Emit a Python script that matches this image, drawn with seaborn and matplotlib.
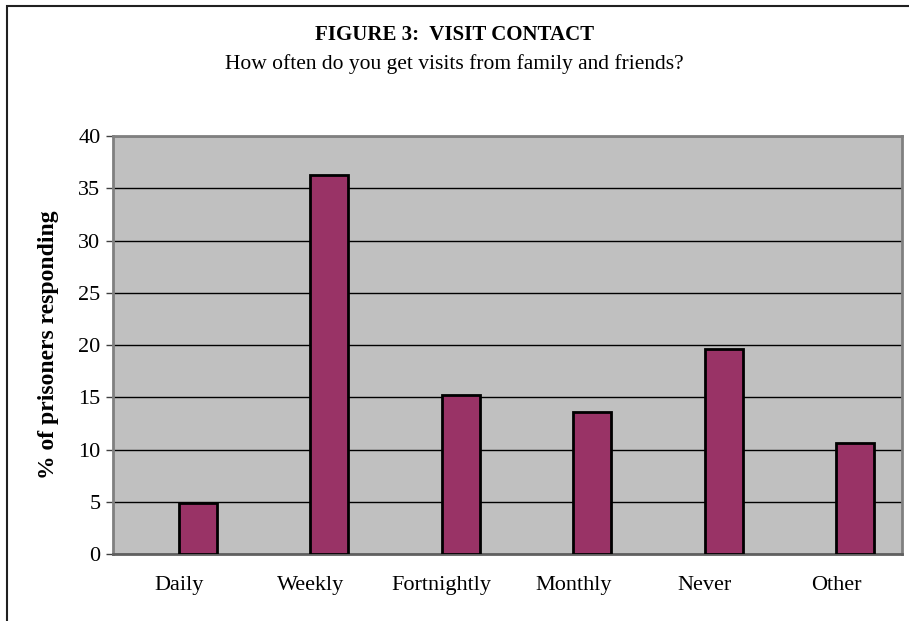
import numpy as np
import pandas as pd
import matplotlib
matplotlib.use("Agg")
import matplotlib.pyplot as plt
import seaborn as sns
from matplotlib.patches import Rectangle

categories = ["Daily", "Weekly", "Fortnightly", "Monthly", "Never", "Other"]
percent = [4.9, 36.3, 15.2, 13.6, 19.6, 10.6]
y_ticks = [0, 5, 10, 15, 20, 25, 30, 35, 40]

sns.set_style("white")
plt.rcParams['font.family'] = ['Liberation Serif', 'DejaVu Serif']
plt.rcParams['text.color'] = 'black'
plt.rcParams['xtick.color'] = 'black'
plt.rcParams['ytick.color'] = 'black'
plt.rcParams['axes.labelcolor'] = 'black'

# Excel-style layout: an empty first series pushes the real bar right of centre
df = pd.DataFrame({
    "freq": categories * 2,
    "pct": [np.nan] * len(categories) + percent,
    "series": ["blank"] * len(categories) + ["pct"] * len(categories),
})

fig = plt.figure(figsize=(9.09, 6.21), dpi=100)
ax = fig.add_axes([0.1243, 0.1079, 0.868, 0.673])
ax.set_facecolor("#C0C0C0")

sns.barplot(data=df, x="freq", y="pct", hue="series", dodge=True,
            palette={"blank": "#993366", "pct": "#993366"}, edgecolor="black",
            linewidth=2, width=0.58, saturation=1, ax=ax, zorder=3,
            legend=False, errorbar=None)

ax.set_ylim(0, 40)
ax.set_xlim(-0.5, len(categories) - 0.5)
ax.set_yticks(y_ticks)
ax.set_yticklabels([str(t) for t in y_ticks], fontsize=16)
ax.yaxis.grid(True, color="black", linewidth=1)
ax.set_axisbelow(True)

# category boundaries as tick marks
ax.set_xticks(np.arange(len(categories)))
ax.set_xticklabels(categories, fontsize=16)
ax.set_xticks(np.arange(len(categories) + 1) - 0.5, minor=True)
ax.tick_params(axis="x", which="major", length=0, pad=16)
ax.tick_params(axis="x", which="minor", length=6, width=1, color="#404040", direction="out")
ax.tick_params(axis="y", length=5, width=1, color="#404040", labelcolor="black",
               direction="out", pad=4, left=True)

for s in ax.spines.values():
    s.set_color("#808080")
    s.set_linewidth(2)
ax.spines["bottom"].set_color("#606060")

ax.set_xlabel("")
ax.set_ylabel("% of prisoners responding", fontsize=17, fontweight="bold", labelpad=14)

fig.text(0.5, 1 - 35 / 621, "FIGURE 3:  VISIT CONTACT", ha="center", va="center",
         fontsize=15, fontweight="bold")
fig.text(0.5, 1 - 64 / 621, "How often do you get visits from family and friends?",
         ha="center", va="center", fontsize=15.5)

# outer chart frame (cut off on right and bottom as in source)
fig.patches.append(Rectangle((7.5 / 909, -0.05), 1.1, 1 - 5.5 / 621 + 0.05,
                             transform=fig.transFigure, fill=False,
                             edgecolor="#202020", linewidth=1.5))

fig.savefig("out.png", dpi=100)
